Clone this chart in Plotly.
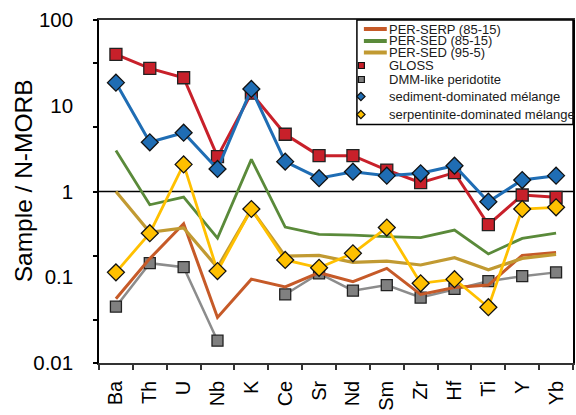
import plotly.graph_objects as go

# Trace elements, normalised to N-MORB
elements = ["Ba", "Th", "U", "Nb", "K", "Ce", "Sr", "Nd", "Sm", "Zr", "Hf", "Ti", "Y", "Yb"]

per_serp_85_15 = [0.056, 0.165, 0.42, 0.034, 0.095, 0.077, 0.113, 0.089, 0.127, 0.063, 0.076, 0.081, 0.18, 0.195]
per_sed_85_15 = [3.0, 0.70, 0.86, 0.286, 2.37, 0.385, 0.316, 0.31, 0.297, 0.29, 0.355, 0.187, 0.284, 0.326]
per_sed_95_5 = [1.0, 0.335, 0.375, 0.13, 0.62, 0.176, 0.18, 0.149, 0.154, 0.139, 0.169, 0.122, 0.166, 0.185]
gloss = [39.8, 27.3, 21.2, 2.55, 14.0, 4.65, 2.62, 2.62, 1.78, 1.27, 1.66, 0.41, 0.91, 0.855]
dmm_peridotite = [0.0454, 0.146, 0.131, 0.0182, None, 0.063, 0.111, 0.0697, 0.081, 0.058, 0.073, 0.09, 0.103, 0.114]
sediment_melange = [18.6, 3.75, 4.85, 1.83, 15.7, 2.23, 1.43, 1.70, 1.53, 1.63, 2.0, 0.76, 1.36, 1.53]
serpentinite_melange = [0.114, 0.326, 2.07, 0.118, 0.625, 0.159, 0.129, 0.19, 0.38, 0.085, 0.095, 0.0447, 0.625, 0.654]

# Axis labelling
ytick_values = [100, 10, 1, 0.1, 0.01]
ytick_labels = ["100", "10", "1", "0.1", "0.01"]
ytick_mark_exponents = [2, 1.5, 0.75, 0, -0.75, -1.5, -2]

names = ["PER-SERP (85-15)", "PER-SED (85-15)", "PER-SED (95-5)", "GLOSS",
         "DMM-like peridotite", "sediment-dominated mélange", "serpentinite-dominated mélange"]

C_ORANGE = "#C65A28"
C_GREEN = "#5A8A3A"
C_GOLD = "#C19A32"
C_RED = "#C8202A"
C_GREY = "#808080"
C_BLUE = "#1F6DB4"
C_YELLOW = "#FFC000"

FONT = "Liberation Sans, Arial, sans-serif"

W, H = 576, 415
L, R, T, B = 99, 1, 20, 52

fig = go.Figure()

fig.add_trace(go.Scatter(x=elements, y=dmm_peridotite, mode="lines+markers", name=names[4],
                         line=dict(color="#8C8C8C", width=2.5),
                         marker=dict(symbol="square", size=11, color=C_GREY,
                                     line=dict(color="#222222", width=1.3)),
                         connectgaps=False, showlegend=False))
fig.add_trace(go.Scatter(x=elements, y=per_serp_85_15, mode="lines", name=names[0],
                         line=dict(color=C_ORANGE, width=3), showlegend=False))
fig.add_trace(go.Scatter(x=elements, y=per_sed_85_15, mode="lines", name=names[1],
                         line=dict(color=C_GREEN, width=2.8), showlegend=False))
fig.add_trace(go.Scatter(x=elements, y=per_sed_95_5, mode="lines", name=names[2],
                         line=dict(color=C_GOLD, width=3.2), showlegend=False))
fig.add_trace(go.Scatter(x=elements, y=gloss, mode="lines+markers", name=names[3],
                         line=dict(color=C_RED, width=3),
                         marker=dict(symbol="square", size=12, color=C_RED,
                                     line=dict(color="#222222", width=1.3)),
                         showlegend=False))
fig.add_trace(go.Scatter(x=elements, y=sediment_melange, mode="lines+markers", name=names[5],
                         line=dict(color=C_BLUE, width=3),
                         marker=dict(symbol="diamond", size=13, color=C_BLUE,
                                     line=dict(color="#111111", width=1.3)),
                         showlegend=False))
fig.add_trace(go.Scatter(x=elements, y=serpentinite_melange, mode="lines+markers", name=names[6],
                         line=dict(color=C_YELLOW, width=2.8),
                         marker=dict(symbol="diamond", size=13, color=C_YELLOW,
                                     line=dict(color="#111111", width=1.3)),
                         showlegend=False))

# Carrier for the secondary y axis that holds the tick marks
fig.add_trace(go.Scatter(x=[elements[0]], y=[1], yaxis="y2", mode="markers",
                         marker=dict(opacity=0), hoverinfo="skip", showlegend=False))

fig.update_layout(
    width=W, height=H,
    margin=dict(l=L, r=R, t=T, b=B, pad=0),
    paper_bgcolor="white", plot_bgcolor="white",
    font=dict(family=FONT, color="black"),
    showlegend=False,
    xaxis=dict(type="category", categoryorder="array", categoryarray=elements,
               range=[-0.5, len(elements) - 0.5],
               tickson="boundaries", ticks="outside", ticklen=5, tickwidth=1.5,
               tickcolor="#333333", tickangle=-90, tickfont=dict(size=20, family=FONT),
               showline=True, linecolor="#333333", linewidth=1.5, mirror=True,
               showgrid=False, zeroline=False, ticklabelstandoff=8),
    yaxis=dict(type="log", range=[-2, 2], tickmode="array",
               tickvals=ytick_values, ticktext=ytick_labels,
               ticks="", tickfont=dict(size=20.5, family=FONT),
               showline=True, linecolor="black", linewidth=1.5, mirror=True,
               showgrid=False, zeroline=False, ticklabelstandoff=20),
    yaxis2=dict(type="log", range=[-2, 2], overlaying="y", side="left", anchor="x",
                tickmode="array", tickvals=[10 ** e for e in ytick_mark_exponents],
                ticks="outside", ticklen=5, tickwidth=1.5, tickcolor="black",
                showticklabels=False, showline=False, showgrid=False, zeroline=False),
)

pw = W - L - R
ph = H - T - B


def px(xp):
    return (xp - L) / pw


def py(yp):
    return (H - B - yp) / ph


shapes = []
# reference line at Sample / N-MORB = 1
shapes.append(dict(type="line", xref="paper", yref="paper", x0=0, x1=1, y0=0.5, y1=0.5,
                   line=dict(color="black", width=1.5), layer="below"))

# legend frame
shapes.append(dict(type="rect", xref="paper", yref="paper",
                   x0=px(358), x1=1, y0=py(124.5), y1=1,
                   line=dict(color="black", width=1.5), fillcolor="white", layer="above"))

legend_rows = [29, 41, 52.5, 65.5, 79.5, 96.5, 114.5]
line_colors = [C_ORANGE, C_GREEN, C_GOLD]
for yy, c in zip(legend_rows[:3], line_colors):
    shapes.append(dict(type="line", xref="paper", yref="paper",
                       x0=px(365), x1=px(388), y0=py(yy), y1=py(yy),
                       line=dict(color=c, width=4), layer="above"))

for yy, c in zip(legend_rows[3:5], [C_RED, C_GREY]):
    s = 3
    shapes.append(dict(type="rect", xref="paper", yref="paper",
                       x0=px(362.5 - s), x1=px(362.5 + s), y0=py(yy + s), y1=py(yy - s),
                       line=dict(color="#111111", width=1.2), fillcolor=c, layer="above"))

for yy, c in zip(legend_rows[5:], [C_BLUE, C_YELLOW]):
    d = 4.2
    cx = 362
    path = (f"M {px(cx - d)},{py(yy)} L {px(cx)},{py(yy - d)} "
            f"L {px(cx + d)},{py(yy)} L {px(cx)},{py(yy + d)} Z")
    shapes.append(dict(type="path", xref="paper", yref="paper", path=path,
                       line=dict(color="#111111", width=1.2), fillcolor=c, layer="above"))

fig.update_layout(shapes=shapes)

annotations = []
for yy, name in zip(legend_rows, names):
    annotations.append(dict(xref="paper", yref="paper", x=px(388.5), y=py(yy),
                            xanchor="left", yanchor="middle", showarrow=False,
                            text=name, font=dict(size=13, family=FONT, color="#1a1a1a")))

annotations.append(dict(xref="paper", yref="paper", x=px(23), y=py(181),
                        xanchor="center", yanchor="middle", showarrow=False,
                        textangle=-90, text="Sample / N-MORB",
                        font=dict(size=24.5, family=FONT, color="black")))
fig.update_layout(annotations=annotations)

fig.write_html("out.html")
